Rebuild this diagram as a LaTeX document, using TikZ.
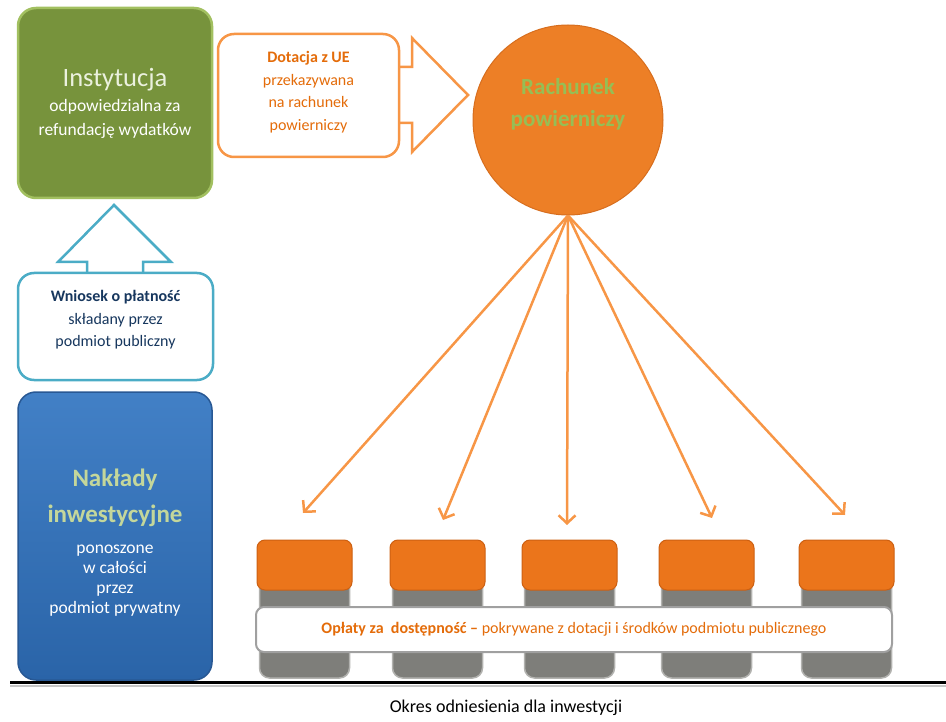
\documentclass[tikz,border=0pt]{standalone}
\usepackage{fontspec}
\setmainfont{Carlito}
\usetikzlibrary{arrows.meta}
\definecolor{instgreen}{RGB}{119,147,60}
\definecolor{instedge}{RGB}{162,192,96}
\definecolor{insttitle}{RGB}{235,241,222}
\definecolor{costlight}{RGB}{66,128,198}
\definecolor{costblue}{RGB}{42,100,168}
\definecolor{costedge}{RGB}{40,88,148}
\definecolor{costtitle}{RGB}{196,215,155}
\definecolor{wnteal}{RGB}{75,172,198}
\definecolor{navytext}{RGB}{23,55,94}
\definecolor{fanorange}{RGB}{247,150,70}
\definecolor{textorange}{RGB}{228,108,10}
\definecolor{acctorange}{RGB}{237,127,38}
\definecolor{acctedge}{RGB}{215,110,30}
\definecolor{accttext}{RGB}{150,190,85}
\definecolor{topfill}{RGB}{235,117,27}
\definecolor{topedge}{RGB}{205,96,18}
\definecolor{colgray}{RGB}{126,126,122}
\definecolor{coledge}{RGB}{178,178,175}
\definecolor{bandedge}{RGB}{160,160,160}

\begin{document}
\begin{tikzpicture}[x=1pt, y=-1pt,
  box/.style={rounded corners=18pt, line width=2.5pt, align=center, inner sep=0pt, text=white},
  callout/.style={fill=white, line width=2.5pt, rounded corners=16pt, align=center, inner sep=0pt},
  coltop/.style={fill=topfill, draw=topedge, line width=1pt, rounded corners=8pt, minimum width=95pt, minimum height=50pt},
  fan/.style={draw=fanorange, line width=2.5pt, -{Straight Barb[length=8pt,width=17pt]}}]
  \useasboundingbox (0,0) rectangle (946,722);

  % Institution
  \node[box, fill=instgreen, draw=instedge, minimum width=194pt, minimum height=190pt,
        font=\fontsize{17.5}{24}\selectfont] (inst) at (115,103)
    {{\fontsize{26.5}{28}\selectfont\color{insttitle}Instytucja}\\[1pt]odpowiedzialna za\\refundację wydatków};

  % Payment request with up arrow
  \draw[wnteal, line width=2.5pt, fill=white] (87,273) -- (87,262) -- (58,262) -- (114,205)
    -- (171,262) -- (143,262) -- (143,273);
  \node[callout, draw=wnteal, minimum width=195pt, minimum height=107pt] (pay) at (115.5,326.5) {};
  \node[text=navytext, align=center, font=\fontsize{16}{22.5}\selectfont] (paytxt) at (115.5,320)
    {\textbf{Wniosek o płatność}\\składany przez\\podmiot publiczny};

  % Investment outlays
  \node[box, top color=costlight, bottom color=costblue, draw=costedge, line width=1.5pt,
        minimum width=194pt, minimum height=288pt] (cost) at (115,536) {};
  \node[text=white, align=center, font=\fontsize{17.5}{20}\selectfont] (costtxt) at (115,542.5)
    {{\fontsize{25}{30}\selectfont\bfseries\color{costtitle}Nakłady}\\[14pt]
     {\fontsize{25}{30}\selectfont\bfseries\color{costtitle}inwestycyjne}\\[11pt]
     ponoszone\\w całości\\przez\\podmiot prywatny};

  % EU grant with right arrow
  \draw[fanorange, line width=2.5pt, fill=white] (399,67) -- (412,67) -- (412,38) -- (468,95)
    -- (412,152) -- (412,123) -- (399,123);
  \node[callout, draw=fanorange, minimum width=181pt, minimum height=123pt] (grant) at (308.5,95.5) {};
  \node[text=textorange, align=center, font=\fontsize{16}{22.5}\selectfont] (granttxt) at (308.5,92)
    {\textbf{Dotacja z UE}\\przekazywana\\na rachunek\\powierniczy};

  % Trust account
  \node[circle, fill=acctorange, draw=acctedge, line width=1pt, minimum size=190pt] (acct) at (568,120) {};
  \node[font=\fontsize{23}{32}\selectfont\bfseries, text=accttext, align=center] (accttxt) at (568,104)
    {Rachunek\\powierniczy};

  % Payment columns and fan of arrows
  \foreach \i/\cx/\tx/\ty in {1/304.5/303/513, 2/437.5/443/520, 3/569.5/567/525, 4/706.5/712/518, 5/846.5/845/515} {
    \fill[colgray, draw=coledge, line width=1.5pt, rounded corners=10pt] (\cx-45,578) rectangle (\cx+45,678);
    \node[coltop] (top\i) at (\cx,565) {};
    \coordinate (tip\i) at (\tx,\ty);
    \draw[fan] (acct.south) -- (tip\i);
  }

  % Availability fees band
  \node[draw=bandedge, line width=2pt, fill=white, rounded corners=8pt, minimum width=636pt,
        minimum height=45pt, text=textorange, font=\fontsize{16}{19}\selectfont] (band) at (574,629.5)
    {\textbf{Opłaty za\ \ dostępność –} pokrywane z dotacji i środków podmiotu publicznego};

  % Time axis
  \coordinate (axisL) at (10,682);
  \coordinate (axisR) at (946,682);
  \draw[gray!45, line width=2pt] ([yshift=-3.5pt]axisL) -- ([yshift=-3.5pt]axisR);
  \draw[black, line width=3pt] (axisL) -- (axisR);
  \node[font=\fontsize{18}{21}\selectfont] (period) at (506,708) {Okres odniesienia dla inwestycji};

\end{tikzpicture}
\end{document}
